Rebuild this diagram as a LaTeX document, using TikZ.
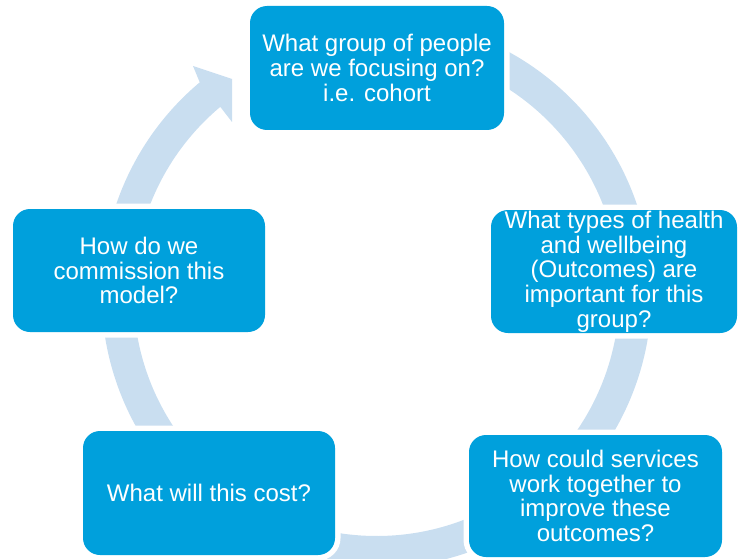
\documentclass[tikz,border=0pt]{standalone}
\usepackage{fontspec}
\setmainfont{Liberation Sans}
\definecolor{boxc}{RGB}{0,160,220}
\definecolor{ringc}{RGB}{201,222,240}
\begin{document}
\begin{tikzpicture}[x=1pt,y=1pt,
  qbox/.style={fill=boxc, rounded corners=17pt,
    preaction={draw=white, line width=11pt},
    text=white, align=center, inner sep=0pt,
    font=\fontsize{24pt}{24.7pt}\selectfont}]
\useasboundingbox (0,0) rectangle (738,558);
\coordinate (c) at (376.5,265);
% ring with arrow head
\fill[ringc] ([shift={(100:275)}]c) arc[start angle=100,end angle=-230,radius=275]
  -- (193,492) -- (232,479) -- (232,436) -- ([shift={(130:243)}]c)
  arc[start angle=130,end angle=460,radius=243] -- cycle;
% boxes
\node[qbox, minimum width=254pt, minimum height=124pt] (q1) at (377,490)
  {What group of people\\are we focusing on?\\i.e. cohort};
\node[qbox, minimum width=246pt, minimum height=123pt] (q2) at (614,286.5)
  {What types of health\\and wellbeing\\(Outcomes) are\\important for this\\group?};
\node[qbox, minimum width=253pt, minimum height=122pt] (q3) at (595.5,62)
  {How could services\\work together to\\improve these\\outcomes?};
\node[qbox, minimum width=252pt, minimum height=124pt] (q4) at (209,65)
  {What will this cost?};
\node[qbox, minimum width=252pt, minimum height=123pt] (q5) at (139,287.5)
  {How do we\\commission this\\model?};
\end{tikzpicture}
\end{document}
